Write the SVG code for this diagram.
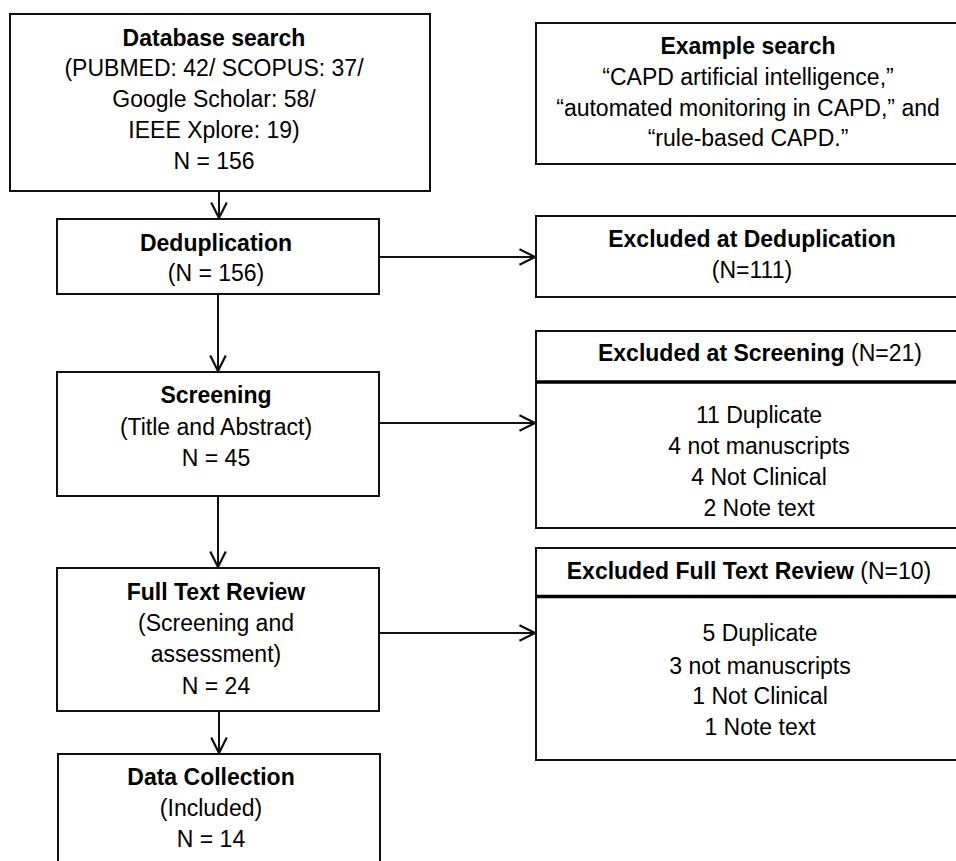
<svg xmlns="http://www.w3.org/2000/svg" width="956" height="861" viewBox="0 0 956 861">
<style>
.box{fill:#fff;stroke:#111;stroke-width:2}
.div{stroke:#000;stroke-width:3.5}
text{font-family:"Liberation Sans",Arial,sans-serif;font-size:23px;fill:#000;text-anchor:middle}
.b{font-weight:bold}
.con{stroke:#111;stroke-width:2;fill:none;marker-end:url(#arr)}
</style>
<defs>
<marker id="arr" markerUnits="userSpaceOnUse" markerWidth="20" markerHeight="20" viewBox="-16 -9 18 18" refX="0" refY="0" orient="auto">
<path d="M-14,-7 L0,0 L-14,7" fill="none" stroke="#111" stroke-width="2"/>
</marker>
</defs>
<rect width="956" height="861" fill="#fff"/>
<g id="connectors">
<line class="con" x1="219" y1="191" x2="219" y2="218"/>
<line class="con" x1="218" y1="294" x2="218" y2="371"/>
<line class="con" x1="218" y1="496" x2="218" y2="567"/>
<line class="con" x1="219" y1="711" x2="219" y2="753"/>
<line class="con" x1="379" y1="257" x2="535" y2="257"/>
<line class="con" x1="379" y1="423" x2="535" y2="423"/>
<line class="con" x1="379" y1="633" x2="535" y2="633"/>
</g>
<g id="database-search">
<rect class="box" x="10" y="14" width="420" height="177"/>
<text x="214" y="46" class="b">Database search</text>
<text x="214" y="76">(PUBMED: 42/ SCOPUS: 37/</text>
<text x="214" y="107">Google Scholar: 58/</text>
<text x="214" y="138">IEEE Xplore: 19)</text>
<text x="214" y="169">N = 156</text>
</g>
<g id="example-search">
<rect class="box" x="536" y="23" width="440" height="141"/>
<text x="748" y="54" class="b">Example search</text>
<text x="748" y="85">“CAPD artificial intelligence,”</text>
<text x="748" y="116">“automated monitoring in CAPD,” and</text>
<text x="748" y="146">“rule-based CAPD.”</text>
</g>
<g id="deduplication">
<rect class="box" x="57" y="219" width="322" height="75"/>
<text x="216" y="251" class="b">Deduplication</text>
<text x="216" y="281">(N = 156)</text>
</g>
<g id="excluded-deduplication">
<rect class="box" x="536" y="216" width="440" height="81"/>
<text x="752" y="247" class="b">Excluded at Deduplication</text>
<text x="752" y="278">(N=111)</text>
</g>
<g id="screening">
<rect class="box" x="57" y="372" width="322" height="124"/>
<text x="216" y="403" class="b">Screening</text>
<text x="216" y="435">(Title and Abstract)</text>
<text x="216" y="466">N = 45</text>
</g>
<g id="excluded-screening">
<rect class="box" x="536" y="331" width="440" height="197"/>
<line class="div" x1="536" y1="382" x2="976" y2="382"/>
<text x="760" y="361"><tspan class="b">Excluded at Screening</tspan> (N=21)</text>
<text x="759" y="423">11 Duplicate</text>
<text x="759" y="454">4 not manuscripts</text>
<text x="759" y="485">4 Not Clinical</text>
<text x="759" y="516">2 Note text</text>
</g>
<g id="full-text-review">
<rect class="box" x="57" y="568" width="322" height="143"/>
<text x="216" y="600" class="b">Full Text Review</text>
<text x="216" y="631">(Screening and</text>
<text x="216" y="662">assessment)</text>
<text x="216" y="694">N = 24</text>
</g>
<g id="excluded-full-text">
<rect class="box" x="536" y="548" width="440" height="212"/>
<line class="div" x1="536" y1="596.5" x2="976" y2="596.5"/>
<text x="749" y="579"><tspan class="b">Excluded Full Text Review</tspan> (N=10)</text>
<text x="760" y="641">5 Duplicate</text>
<text x="760" y="674">3 not manuscripts</text>
<text x="760" y="704">1 Not Clinical</text>
<text x="760" y="735">1 Note text</text>
</g>
<g id="data-collection">
<rect class="box" x="58" y="754" width="322" height="130"/>
<text x="211" y="785" class="b">Data Collection</text>
<text x="211" y="816">(Included)</text>
<text x="211" y="847">N = 14</text>
</g>
</svg>
